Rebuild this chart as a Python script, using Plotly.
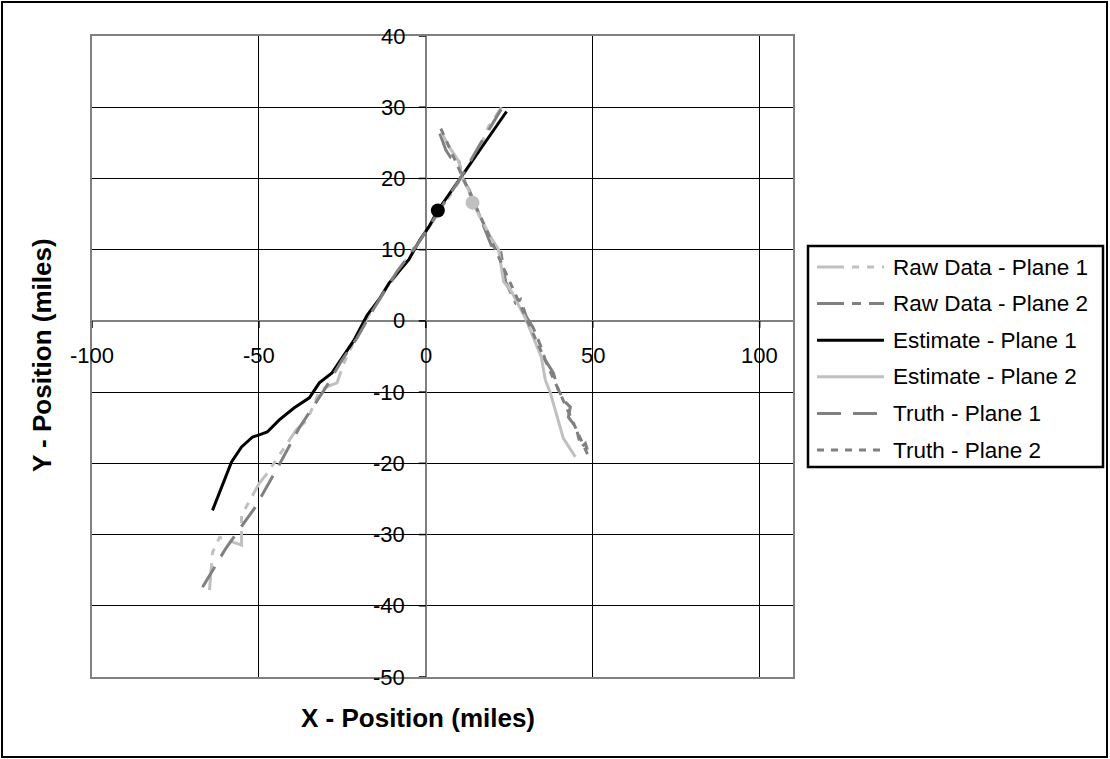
import plotly.graph_objects as go

# ---------------- data (miles) ----------------
raw1_x = [-64.8, -63.9, -61.8, -55.2, -55.2, -49.9, -47.5, -41.8, -38.8, -35.5, -32.0, -29.9,
          -26.6, -24.5, -20.6, -16.4, -12.0, -8.7, -3.0, 1.5, 6.9, 11.3, 15.8, 18.8, 22.7]
raw1_y = [-37.8, -32.5, -30.4, -31.5, -27.3, -22.8, -21.4, -17.4, -15.3, -13.9, -10.0, -9.3,
          -8.7, -5.9, -2.0, 1.3, 4.5, 6.5, 10.7, 13.5, 17.3, 20.5, 23.8, 27.3, 30.0]

raw2_x = [4.2, 6.0, 7.5, 9.8, 11.2, 13.0, 15.5, 17.5, 19.6, 22.3, 23.9, 26.9, 28.4, 30.1,
          32.2, 34.3, 35.8, 38.2, 39.7, 41.8, 43.3, 42.7, 45.1, 45.7, 46.6, 47.8, 48.4]
raw2_y = [26.3, 24.0, 22.9, 22.6, 19.8, 18.4, 15.5, 13.2, 10.6, 10.2, 5.5, 2.5, 3.0, 0.6,
          -1.0, -3.4, -5.5, -7.3, -9.7, -11.4, -12.1, -13.5, -15.0, -16.3, -17.7, -17.2, -18.1]

est1_x = [-63.9, -60.3, -58.2, -55.2, -51.9, -49.9, -47.5, -43.9, -39.4, -34.9, -31.9, -28.1,
          -25.1, -21.5, -17.6, -14.0, -11.0, -5.1, -2.1, 0.9, 3.6, 10.7, 17.3, 20.9, 24.2]
est1_y = [-26.6, -22.4, -19.8, -17.7, -16.3, -16.0, -15.6, -13.9, -12.2, -10.8, -8.7, -7.3,
          -5.2, -2.7, 0.8, 3.0, 5.3, 8.6, 11.1, 13.2, 15.5, 20.3, 24.8, 27.1, 29.4]

est2_x = [4.8, 6.9, 9.9, 10.7, 12.8, 14.0, 16.7, 19.4, 21.8, 23.3, 25.7, 30.1, 34.6, 35.8,
          37.3, 41.2, 44.8]
est2_y = [26.4, 24.5, 22.4, 20.3, 18.4, 16.6, 14.2, 11.8, 10.0, 5.5, 4.1, 0.1, -5.1, -8.3,
          -10.1, -16.5, -19.1]

truth1_x = [-66.9, -60.0, -51.3, -44.5, -37.9, -29.9, -25.1, -20.6, -16.4, -8.7, -3.0, 0.9,
            6.9, 10.7, 16.5, 22.7]
truth1_y = [-37.4, -32.0, -26.3, -20.7, -15.0, -9.3, -5.5, -2.4, 1.1, 6.9, 10.4, 13.2,
            17.4, 20.3, 25.0, 29.8]

truth2_x = [4.5, 7.0, 9.6, 12.1, 14.7, 17.2, 19.8, 22.3, 24.9, 27.4, 30.0, 32.5, 35.1, 37.6,
            40.2, 42.7, 45.3, 47.8, 48.7]
truth2_y = [27.0, 24.4, 21.7, 19.1, 16.4, 13.8, 11.1, 8.5, 5.8, 3.2, 0.5, -2.1, -4.8, -7.4,
            -10.1, -12.7, -15.4, -18.0, -19.0]

# current positions
cur1 = (3.6, 15.5)
cur2 = (14.0, 16.6)

x_ticks = [-100, -50, 0, 50, 100]
y_ticks = [40, 30, 20, 10, 0, -10, -20, -30, -40, -50]

series_names = ["Raw Data - Plane 1", "Raw Data - Plane 2", "Estimate - Plane 1",
                "Estimate - Plane 2", "Truth - Plane 1", "Truth - Plane 2"]

# ---------------- styles ----------------
FONT = "Arial, Liberation Sans, sans-serif"
styles = [
    dict(color="#C0C0C0", dash="27px,8px,7px,8px,7px,8px"),
    dict(color="#808080", dash="27px,8px,9px,8px"),
    dict(color="#000000", dash="solid"),
    dict(color="#C0C0C0", dash="solid"),
    dict(color="#808080", dash="24px,12px"),
    dict(color="#808080", dash="7px,7px"),
]
LW = 3

# plot area in pixels
L, T, R, B = 92, 36, 793, 677
W, H = 1110, 759


def px_x(p):
    return (p - L) / (R - L)


def px_y(p):
    return (B - p) / (B - T)


fig = go.Figure()
data = [(raw1_x, raw1_y), (raw2_x, raw2_y), (est1_x, est1_y), (est2_x, est2_y),
        (truth1_x, truth1_y), (truth2_x, truth2_y)]
for (xs, ys), name, st in zip(data, series_names, styles):
    fig.add_trace(go.Scatter(x=xs, y=ys, mode="lines", name=name, showlegend=False,
                             line=dict(color=st["color"], width=LW, dash=st["dash"])))

fig.add_trace(go.Scatter(x=[cur1[0]], y=[cur1[1]], mode="markers", showlegend=False,
                         marker=dict(color="#000000", size=14)))
fig.add_trace(go.Scatter(x=[cur2[0]], y=[cur2[1]], mode="markers", showlegend=False,
                         marker=dict(color="#C0C0C0", size=14)))

shapes = []
annotations = []

# axis tick marks at the crossing axes
for v in y_ticks:
    shapes.append(dict(type="line", xref="x", yref="y", xsizemode="pixel", xanchor=0,
                       x0=-7, x1=0, y0=v, y1=v, line=dict(color="#000000", width=1.5)))
    annotations.append(dict(x=0, y=v, xref="x", yref="y", text=str(v), showarrow=False,
                            xanchor="right", yanchor="middle", xshift=-19,
                            font=dict(family=FONT, size=22, color="#000000")))
for v in x_ticks:
    shapes.append(dict(type="line", xref="x", yref="y", ysizemode="pixel", yanchor=0,
                       y0=-7, y1=0, x0=v, x1=v, line=dict(color="#000000", width=1.5)))
    annotations.append(dict(x=v, y=0, xref="x", yref="y", text=str(v), showarrow=False,
                            xanchor="center", yanchor="middle", yshift=-35,
                            font=dict(family=FONT, size=22, color="#000000")))

# axis titles
annotations.append(dict(x=px_x(418), y=px_y(718), xref="paper", yref="paper",
                        text="<b>X - Position (miles)</b>", showarrow=False,
                        xanchor="center", yanchor="middle",
                        font=dict(family=FONT, size=26, color="#000000")))
annotations.append(dict(x=px_x(42), y=px_y(355), xref="paper", yref="paper",
                        text="<b>Y - Position (miles)</b>", showarrow=False, textangle=-90,
                        xanchor="center", yanchor="middle",
                        font=dict(family=FONT, size=26, color="#000000")))

# outer chart frame
shapes.append(dict(type="rect", xref="paper", yref="paper", x0=px_x(2), x1=px_x(1107),
                   y0=px_y(757), y1=px_y(2), line=dict(color="#000000", width=2),
                   layer="below"))

# legend
LG_L, LG_T, LG_R, LG_B = 808, 246, 1103, 467
shapes.append(dict(type="rect", xref="paper", yref="paper", x0=px_x(LG_L), x1=px_x(LG_R),
                   y0=px_y(LG_B), y1=px_y(LG_T), line=dict(color="#000000", width=2.5),
                   fillcolor="#FFFFFF"))
for i, (name, st) in enumerate(zip(series_names, styles)):
    yc = 267 + i * 36.6
    shapes.append(dict(type="line", xref="paper", yref="paper", x0=px_x(817), x1=px_x(884),
                       y0=px_y(yc), y1=px_y(yc),
                       line=dict(color=st["color"], width=LW, dash=st["dash"])))
    annotations.append(dict(x=px_x(891), y=px_y(yc), xref="paper", yref="paper", text=name,
                            showarrow=False, xanchor="left", yanchor="middle",
                            font=dict(family=FONT, size=22.5, color="#000000")))

fig.update_layout(
    width=W, height=H, autosize=False,
    margin=dict(l=L, r=W - R, t=T, b=H - B, pad=0),
    paper_bgcolor="#FFFFFF", plot_bgcolor="#FFFFFF",
    showlegend=False,
    shapes=shapes, annotations=annotations,
    xaxis=dict(range=[-100, 110], tick0=0, dtick=50, showgrid=True, gridcolor="#000000",
               gridwidth=1, showticklabels=False, ticks="", zeroline=True,
               zerolinecolor="#808080", zerolinewidth=2, showline=True, mirror=True,
               linecolor="#808080", linewidth=2, fixedrange=True),
    yaxis=dict(range=[-50, 40], tick0=0, dtick=10, showgrid=True, gridcolor="#000000",
               gridwidth=1, showticklabels=False, ticks="", zeroline=True,
               zerolinecolor="#808080", zerolinewidth=2, showline=True, mirror=True,
               linecolor="#808080", linewidth=2, fixedrange=True),
)

fig.write_html("out.html")
